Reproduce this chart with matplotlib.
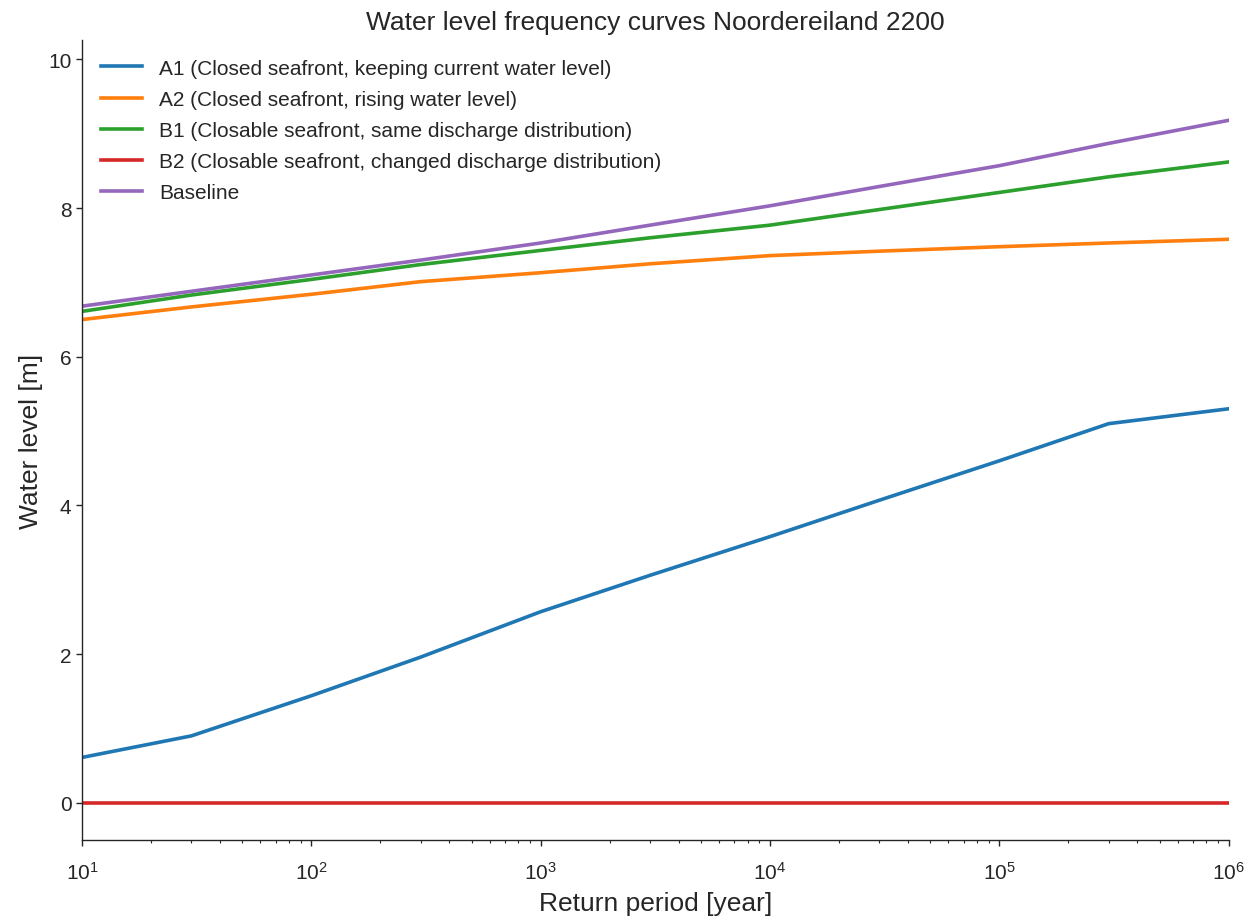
import matplotlib
matplotlib.use("Agg")
import matplotlib.pyplot as plt
import numpy as np

return_periods = [10, 30, 100, 300, 1000, 3000, 1e4, 3e4, 1e5, 3e5, 1e6]
a1 = [0.61, 0.90, 1.44, 1.96, 2.57, 3.06, 3.58, 4.07, 4.60, 5.10, 5.30]
a2 = [6.50, 6.67, 6.84, 7.01, 7.13, 7.25, 7.36, 7.42, 7.48, 7.53, 7.58]
b1 = [6.61, 6.83, 7.04, 7.24, 7.43, 7.60, 7.77, 7.98, 8.21, 8.42, 8.62]
b2 = [0.0] * 11
baseline = [6.68, 6.88, 7.10, 7.30, 7.53, 7.77, 8.03, 8.29, 8.57, 8.87, 9.18]

labels = [
    "A1 (Closed seafront, keeping current water level)",
    "A2 (Closed seafront, rising water level)",
    "B1 (Closable seafront, same discharge distribution)",
    "B2 (Closable seafront, changed discharge distribution)",
    "Baseline",
]
colors = ["#1f77b4", "#ff7f0e", "#2ca02c", "#d62728", "#9467bd"]

plt.rcParams['font.family'] = ['Liberation Sans', 'DejaVu Sans']
text_color = '#262626'
plt.rcParams['text.color'] = text_color
plt.rcParams['axes.labelcolor'] = text_color
plt.rcParams['xtick.color'] = text_color
plt.rcParams['ytick.color'] = text_color

fig = plt.figure(figsize=(12.55, 9.2), dpi=100)
ax = fig.add_axes([0.0653, 0.0859, 0.979 - 0.0653, 0.9554 - 0.0859])

for series, lab, col in zip([a1, a2, b1, b2, baseline], labels, colors):
    ax.plot(return_periods, series, color=col, lw=2.6, label=lab)

ax.set_xscale('log')
ax.set_xlim(10, 1e6)
ax.set_ylim(-0.5, 10.26)
ax.set_yticks([0, 2, 4, 6, 8, 10])

for s in ['top', 'right']:
    ax.spines[s].set_visible(False)
for s in ['left', 'bottom']:
    ax.spines[s].set_color(text_color)
    ax.spines[s].set_linewidth(1.0)

ax.tick_params(axis='both', which='major', labelsize=15, length=4, width=1)
ax.tick_params(axis='both', which='minor', length=2.5, width=0.8)
ax.tick_params(axis='x', which='major', pad=11)

ax.set_xlabel("Return period [year]", fontsize=19, labelpad=6)
ax.set_ylabel("Water level [m]", fontsize=19)
ax.set_title("Water level frequency curves Noordereiland 2200", fontsize=19, pad=8)

ax.legend(loc='upper left', frameon=False, fontsize=15, labelspacing=0.58,
          handlelength=2.0, handletextpad=0.8)

fig.savefig("out.png", dpi=100)
